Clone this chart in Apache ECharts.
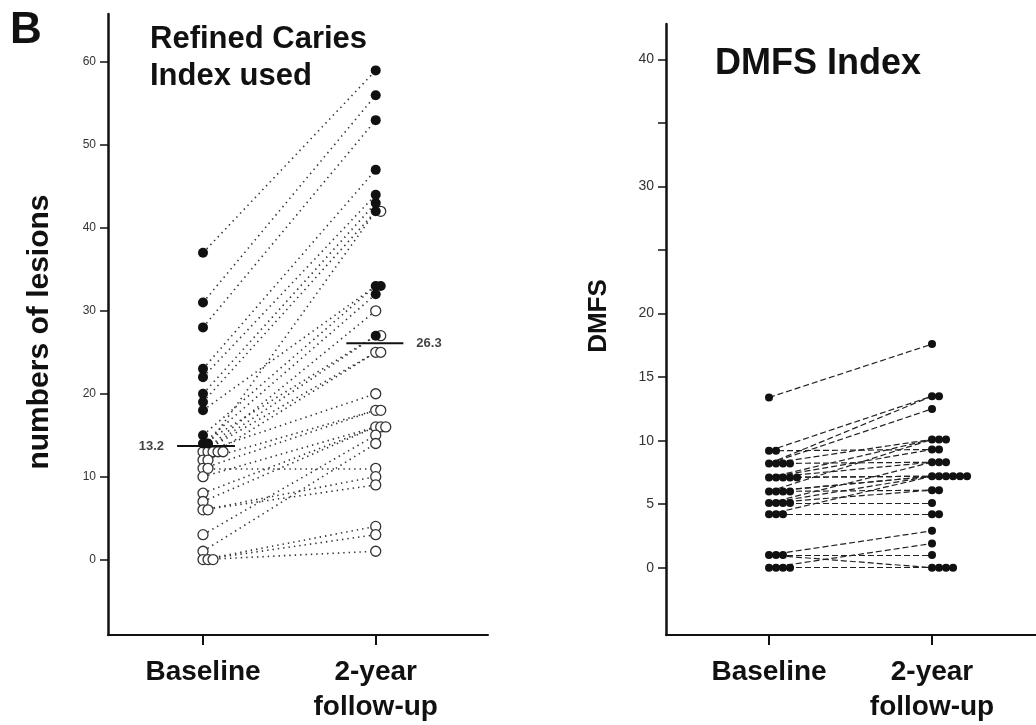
<!DOCTYPE html>
<html>
<head>
<meta charset="utf-8">
<script src="https://cdn.jsdelivr.net/npm/echarts@6.0.0/dist/echarts.min.js"></script>
<style>
  html, body { margin: 0; padding: 0; background: #fff; }
  #main { width: 1036px; height: 725px; }
</style>
</head>
<body>
<div id="main"></div>
<script>
// x categories (both panels)
var xLabels = ['Baseline', '2-year\nfollow-up'];

// panel B left: refined caries index, subjects with high counts (filled)
var rciFilledBase   = [37, 31, 28, 23, 22, 20, 19, 18, 15, 14, 14];
var rciFilledFollow = [59, 56, 53, 47, 44, 43, 42, 33, 33, 32, 27];
// subjects with low counts (open circles)
var rciOpenBase   = [13, 13, 13, 13, 12, 13, 12, 11, 10, 11, 8, 7, 6, 6, 3, 1, 0, 0, 0];
var rciOpenFollow = [42, 30, 27, 25, 25, 20, 18, 18, 16, 11, 16, 16, 10, 9, 15, 14, 4, 3, 1];
// group means: where the bar is drawn, and the printed value
var rciMeanLevel = [13.7, 26.1];
var rciMeanText  = ['13.2', '26.3'];
var rciTicks = [0, 10, 20, 30, 40, 50, 60];

// panel B right: DMFS index
var dmfsBase   = [13.4, 9.2, 9.2, 8.2, 8.2, 8.2, 8.2, 7.1, 7.1, 7.1, 7.1, 7.1, 6, 6, 6, 6,
                  5.1, 5.1, 5.1, 5.1, 4.2, 4.2, 4.2, 1, 1, 1, 0, 0, 0, 0];
var dmfsFollow = [17.6, 13.5, 9.3, 13.5, 12.5, 8.3, 10.1, 7.2, 10.1, 9.3, 7.2, 8.3, 10.1, 7.2, 6.1, 7.2,
                  7.2, 8.3, 5.1, 6.1, 4.2, 4.2, 7.2, 1, 2.9, 0, 0, 0, 0, 1.9];
var dmfsTicks  = [0, 5, 10, 15, 20, 25, 30, 35, 40];
var dmfsLabels = [0, 5, 10, 15, 20, 30, 40];

var FONT = "'Liberation Sans', Arial, Helvetica, sans-serif";

// spread equal values sideways like the original plot does
function spread(values, col, step, used) {
  return values.map(function (v) {
    var key = col + '_' + v;
    var k = used[key] || 0;
    used[key] = k + 1;
    return [col + k * step, v];
  });
}
function pairs(base, follow) {
  return base.map(function (b, i) {
    return { coords: [[0, b], [1, follow[i]]] };
  });
}

var usedL = {};
var lfB = spread(rciFilledBase, 0, 0.029, usedL);
var loB = spread(rciOpenBase, 0, 0.029, usedL);
var lfF = spread(rciFilledFollow, 1, 0.029, usedL);
var loF = spread(rciOpenFollow, 1, 0.029, usedL);

var usedR = {};
var rB = spread(dmfsBase, 0, 0.043, usedR);
var rF = spread(dmfsFollow, 1, 0.043, usedR);

function xAxisOf(idx, min, max) {
  return {
    type: 'value', gridIndex: idx, min: min, max: max,
    splitLine: { show: false },
    axisLine: { show: true, onZero: false, lineStyle: { color: '#111', width: 2 } },
    axisTick: { show: true, length: 10, customValues: [0, 1], lineStyle: { color: '#111', width: 2 } },
    axisLabel: {
      customValues: [0, 1], margin: 20,
      formatter: function (v) { return xLabels[Math.round(v)]; },
      color: '#111', fontFamily: FONT, fontWeight: 'bold', fontSize: 28, lineHeight: 35
    }
  };
}
function yAxisOf(idx, min, max, ticks, labels, size) {
  return {
    type: 'value', gridIndex: idx, min: min, max: max,
    splitLine: { show: false },
    axisLine: { show: true, onZero: false, lineStyle: { color: '#111', width: 2.5 } },
    axisTick: { show: true, length: 8, customValues: ticks, lineStyle: { color: '#111', width: 1.5 } },
    axisLabel: { customValues: labels, margin: 12, color: '#333', fontFamily: FONT, fontSize: size }
  };
}
function meanLabel(x, y, text, pos) {
  return {
    type: 'scatter', xAxisIndex: 0, yAxisIndex: 0, z: 6, symbolSize: 2,
    itemStyle: { color: 'rgba(0,0,0,0)' },
    label: { show: true, position: pos, distance: 12, formatter: text,
             color: '#111', fontFamily: FONT, fontWeight: 'bold', fontSize: 13 },
    data: [[x, y]]
  };
}

var chart = echarts.init(document.getElementById('main'));
var option = {
  backgroundColor: '#fff',
  animation: false,
  grid: [
    { left: 108, width: 380, top: 14, height: 628 },
    { left: 666, right: 0, top: 24, height: 622 }
  ],
  xAxis: [xAxisOf(0, -0.55, 1.65), xAxisOf(1, -0.632, 1.638)],
  yAxis: [
    yAxisOf(0, -9.1, 65.8, rciTicks, rciTicks, 12),
    yAxisOf(1, -5.3, 42.8, dmfsTicks, dmfsLabels, 14)
  ],
  graphic: [
    { type: 'text', left: 10, top: 9, style: { text: 'B', font: 'bold 44px ' + FONT, fill: '#111' } },
    { type: 'text', left: 150, top: 21, style: { text: 'Refined Caries\nIndex used', font: 'bold 31px ' + FONT, lineHeight: 37, fill: '#111' } },
    { type: 'text', left: 715, top: 46, style: { text: 'DMFS Index', font: 'bold 36px ' + FONT, fill: '#111' } },
    { type: 'text', x: 40, y: 332, rotation: Math.PI / 2,
      style: { text: 'numbers of lesions', font: 'bold 30px ' + FONT, fill: '#111', align: 'center', verticalAlign: 'middle' } },
    { type: 'text', x: 599, y: 316, rotation: Math.PI / 2,
      style: { text: 'DMFS', font: 'bold 26px ' + FONT, fill: '#111', align: 'center', verticalAlign: 'middle' } }
  ],
  series: [
    {
      type: 'lines', coordinateSystem: 'cartesian2d', xAxisIndex: 0, yAxisIndex: 0, z: 1,
      lineStyle: { color: '#333', width: 1.6, type: [1.4, 4], opacity: 1 },
      data: pairs(rciFilledBase, rciFilledFollow).concat(pairs(rciOpenBase, rciOpenFollow))
    },
    {
      type: 'scatter', xAxisIndex: 0, yAxisIndex: 0, z: 3, symbolSize: 10,
      itemStyle: { color: '#fff', borderColor: '#333', borderWidth: 1.3, opacity: 1 },
      data: loB.concat(loF)
    },
    {
      type: 'scatter', xAxisIndex: 0, yAxisIndex: 0, z: 4, symbolSize: 10,
      itemStyle: { color: '#111', opacity: 1 },
      data: lfB.concat(lfF)
    },
    {
      type: 'line', xAxisIndex: 0, yAxisIndex: 0, z: 5, symbol: 'none',
      lineStyle: { color: '#111', width: 2 },
      data: [[-0.15, rciMeanLevel[0]], [0.185, rciMeanLevel[0]]]
    },
    {
      type: 'line', xAxisIndex: 0, yAxisIndex: 0, z: 5, symbol: 'none',
      lineStyle: { color: '#111', width: 2 },
      data: [[0.83, rciMeanLevel[1]], [1.16, rciMeanLevel[1]]]
    },
    meanLabel(-0.15, rciMeanLevel[0], rciMeanText[0], 'left'),
    meanLabel(1.16, rciMeanLevel[1], rciMeanText[1], 'right'),
    {
      type: 'lines', coordinateSystem: 'cartesian2d', xAxisIndex: 1, yAxisIndex: 1, z: 1,
      lineStyle: { color: '#222', width: 1.2, type: [6, 3], opacity: 1 },
      data: pairs(dmfsBase, dmfsFollow)
    },
    {
      type: 'scatter', xAxisIndex: 1, yAxisIndex: 1, z: 3, symbolSize: 8,
      itemStyle: { color: '#111', opacity: 1 },
      data: rB.concat(rF)
    }
  ]
};
chart.setOption(option);
</script>
</body>
</html>
